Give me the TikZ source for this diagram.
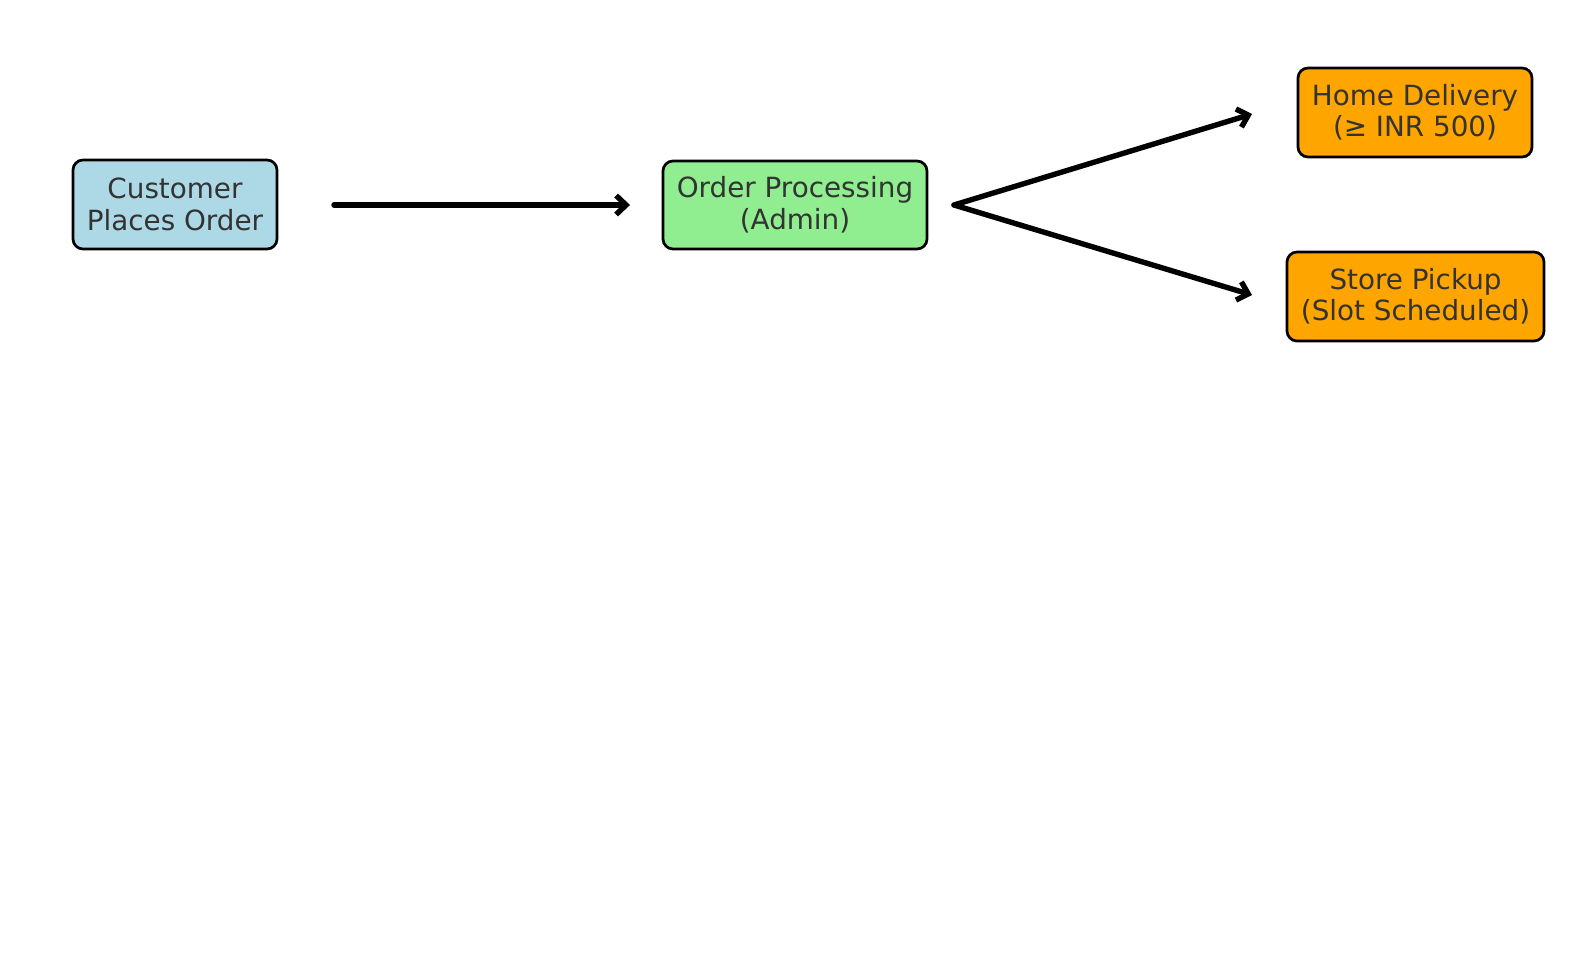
\documentclass[tikz,border=0pt]{standalone}
\usepackage{fontspec}
\setmainfont{DejaVu Sans}
\usetikzlibrary{arrows.meta}
\definecolor{txtgray}{HTML}{333333}
\definecolor{lblue}{HTML}{ADD8E6}
\definecolor{lgreen}{HTML}{90EE90}
\definecolor{orng}{HTML}{FFA500}
\tikzset{
  box/.style={draw=black, line width=2.7pt, rounded corners=10pt, align=center,
    text=txtgray, font=\fontsize{27.8}{31.5}\selectfont, inner sep=0pt},
  flow/.style={line width=5.4pt, line cap=round, line join=round,
    -{Straight Barb[length=10pt,width=19pt,line width=5.4pt]}}
}
\begin{document}
\begin{tikzpicture}[x=1pt,y=-1pt]
\useasboundingbox (0,0) rectangle (1589,964);
\node[box, fill=lblue, minimum width=204pt, minimum height=89pt] (cust) at (175,204.5) {Customer\\Places Order};
\node[box, fill=lgreen, minimum width=264pt, minimum height=88pt] (proc) at (795,205) {Order Processing\\(Admin)};
\node[box, fill=orng, minimum width=234pt, minimum height=89pt] (home) at (1415,112.5) {Home Delivery\\(≥ INR 500)};
\node[box, fill=orng, minimum width=257pt, minimum height=89pt] (store) at (1415.5,296.5) {Store Pickup\\(Slot Scheduled)};
\coordinate (a1s) at (334,205);
\coordinate (a1e) at (630,205);
\coordinate (split) at (954,205);
\coordinate (homein) at (1252,114);
\coordinate (storein) at (1252,295);
\draw[flow] (a1s) -- (a1e);
\draw[flow] (split) -- (homein);
\draw[flow] (split) -- (storein);
\end{tikzpicture}
\end{document}
